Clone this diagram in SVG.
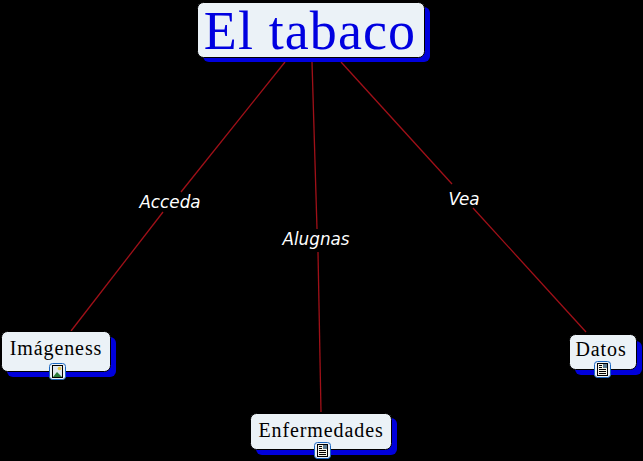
<svg xmlns="http://www.w3.org/2000/svg" width="643" height="461" viewBox="0 0 643 461">
<style>
.shadow{fill:#0000dc}
.box{fill:#ebf2f7;stroke:#000;stroke-width:1}
.t{font-family:"Liberation Serif","DejaVu Serif",serif;fill:#000;font-size:20px;letter-spacing:.9px;text-anchor:middle}
.title{font-size:54px;letter-spacing:1.100px;fill:#0000e0}
.l{font-family:"DejaVu Sans","Liberation Sans",sans-serif;fill:#fff;font-size:16.800px;font-style:italic;text-anchor:middle}
.c{stroke:#a01018;stroke-width:1.300;fill:none}
.ib{fill:#ebf2f7;stroke:#1a66c0;stroke-width:1}
.doc{fill:#f5f5e8;stroke:#000;stroke-width:1}
.dl{stroke:#000;stroke-width:1}
</style>
<defs>
<g id="docicon">
<rect class="ib" x="-7.500" y="-7.500" width="16" height="16" rx="3"/>
<rect class="doc" x="-4.500" y="-5.500" width="10" height="12"/>
<rect x="1" y="-5" width="4" height="4" fill="#5a7a90"/>
<path class="dl" d="M-3-3.500h3M-3-1.500h3M-3 .5h7M-3 2.500h7M-3 4.500h7"/>
</g>
</defs>
<rect width="643" height="461" fill="#000"/>
<g id="connectors">
<line class="c" x1="285" y1="62" x2="181" y2="192"/>
<line class="c" x1="163" y1="212" x2="71" y2="331"/>
<line class="c" x1="312" y1="62" x2="317" y2="229"/>
<line class="c" x1="318" y1="252" x2="321" y2="412"/>
<line class="c" x1="341" y1="62" x2="452" y2="184"/>
<line class="c" x1="473" y1="208" x2="586" y2="332"/>
</g>
<text class="l" x="170" y="208">Acceda</text>
<text class="l" x="316" y="245">Alugnas</text>
<text class="l" x="464" y="205">Vea</text>
<g id="node-tabaco">
<rect class="shadow" x="203" y="7" width="227" height="55" rx="6"/>
<rect class="box" x="197.500" y="2.500" width="227" height="55" rx="6"/>
<text class="t title" x="310" y="49">El tabaco</text>
</g>
<g id="node-imageness">
<rect class="shadow" x="7" y="337" width="109" height="40" rx="6"/>
<rect class="box" x="1.500" y="331.500" width="109" height="40" rx="6"/>
<text class="t" x="56" y="355">Imágeness</text>
<g transform="translate(57,371)">
<rect class="ib" x="-7.500" y="-7.500" width="16" height="16" rx="3"/>
<rect x="-4.500" y="-5.500" width="10" height="12" fill="#dfe8f0" stroke="#000"/>
<path d="M-4 6l4-5 5 5z" fill="#2a7a3a"/>
<circle cx="2.500" cy="-2.500" r="1.800" fill="#e8c84a"/>
</g>
</g>
<g id="node-enfermedades">
<rect class="shadow" x="256" y="418" width="141" height="37" rx="6"/>
<rect class="box" x="250.500" y="413.500" width="141" height="36" rx="6"/>
<text class="t" x="321" y="437">Enfermedades</text>
<use href="#docicon" x="322" y="450"/>
</g>
<g id="node-datos">
<rect class="shadow" x="575" y="341" width="67" height="34" rx="6"/>
<rect class="box" x="569.500" y="334.500" width="67" height="35" rx="6"/>
<text class="t" x="601" y="356">Datos</text>
<use href="#docicon" x="602" y="369"/>
</g>
</svg>
